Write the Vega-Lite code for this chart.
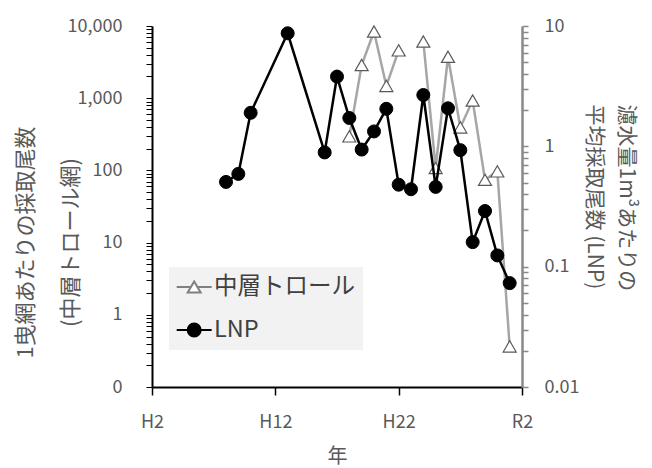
{
  "$schema": "https://vega.github.io/schema/vega-lite/v6.json",
  "width": 370,
  "height": 361,
  "autosize": {"type": "none"},
  "padding": {"left": 152, "top": 26, "right": 130, "bottom": 81},
  "background": "white",
  "config": {
    "view": {"stroke": null},
    "font": "Noto Sans CJK JP",
    "axis": {
      "grid": false,
      "labelFont": "Noto Sans CJK JP",
      "titleFont": "Noto Sans CJK JP",
      "labelColor": "#595959",
      "titleColor": "#595959",
      "titleFontWeight": "normal",
      "labelFontSize": 18,
      "labelOverlap": false,
      "labelFlush": false
    }
  },
  "data": {
    "values": [
      {"year": 1996, "trawl": null, "lnp": 0.506},
      {"year": 1997, "trawl": null, "lnp": 0.59},
      {"year": 1998, "trawl": null, "lnp": 1.9},
      {"year": 2001, "trawl": null, "lnp": 8.7},
      {"year": 2004, "trawl": null, "lnp": 0.89},
      {"year": 2005, "trawl": null, "lnp": 3.8},
      {"year": 2006, "trawl": 296, "lnp": 1.72},
      {"year": 2007, "trawl": 2880, "lnp": 0.94},
      {"year": 2008, "trawl": 8400, "lnp": 1.33},
      {"year": 2009, "trawl": 1480, "lnp": 2.05},
      {"year": 2010, "trawl": 4600, "lnp": 0.48},
      {"year": 2011, "trawl": null, "lnp": 0.44},
      {"year": 2012, "trawl": 6100, "lnp": 2.67},
      {"year": 2013, "trawl": 108, "lnp": 0.46},
      {"year": 2014, "trawl": 3750, "lnp": 2.07},
      {"year": 2015, "trawl": 394, "lnp": 0.93},
      {"year": 2016, "trawl": 930, "lnp": 0.16},
      {"year": 2017, "trawl": 74, "lnp": 0.29},
      {"year": 2018, "trawl": 97, "lnp": 0.124},
      {"year": 2019, "trawl": 0.365, "lnp": 0.073}
    ]
  },
  "encoding": {
    "x": {
      "field": "year",
      "type": "quantitative",
      "scale": {"domain": [1990, 2020], "nice": false, "zero": false},
      "axis": {
        "title": "年",
        "titleFontSize": 20,
        "titleY": 69,
        "titleBaseline": "middle",
        "values": [1990, 2000, 2010, 2020],
        "labelExpr": "datum.value == 2020 ? 'R2' : 'H' + (datum.value - 1988)",
        "domainColor": "black",
        "domainWidth": 2,
        "tickColor": "black",
        "tickWidth": 1.5,
        "tickSize": 8,
        "labelPadding": 18,
        "labelBaseline": "top"
      }
    }
  },
  "layer": [
    {
      "encoding": {
        "y": {
          "field": "trawl",
          "type": "quantitative",
          "scale": {"type": "log", "domain": [0.1, 10000], "nice": false},
          "axis": {
            "orient": "left",
            "title": ["1曳網あたりの採取尾数", "(中層トロール網)"],
            "titleAngle": -90,
            "titleFontSize": 22,
            "titleLineHeight": 45,
            "titleAlign": "center",
            "titleBaseline": "middle",
            "titleX": -127,
            "titleY": 216,
            "values": [0.1, 0.2, 0.3, 0.4, 0.5, 0.6, 0.7, 0.8, 0.9, 1, 2, 3, 4, 5, 6, 7, 8, 9, 10, 20, 30, 40, 50, 60, 70, 80, 90, 100, 200, 300, 400, 500, 600, 700, 800, 900, 1000, 2000, 3000, 4000, 5000, 6000, 7000, 8000, 9000, 10000],
            "labelExpr": "datum.value == 0.1 ? '0' : (indexof([1, 10, 100, 1000, 10000], datum.value) >= 0 ? format(datum.value, ',') : '')",
            "domainColor": "black",
            "domainWidth": 2,
            "tickColor": "black",
            "tickWidth": 1,
            "tickSize": 6,
            "labelPadding": 24
          }
        }
      },
      "layer": [
        {"mark": {"type": "line", "color": "#a6a6a6", "strokeWidth": 2.5, "invalid": "break-paths-filter-domains"}},
        {
          "transform": [{"filter": "datum.trawl != null"}],
          "mark": {"type": "point", "shape": "triangle-up", "filled": true, "fill": "white", "stroke": "#595959", "size": 169, "strokeWidth": 1.2, "opacity": 1}
        },
        {
          "transform": [{"filter": "false"}],
          "mark": {"type": "point", "filled": true, "strokeWidth": 2, "opacity": 1},
          "encoding": {
            "fill": {
              "datum": "中層トロール",
              "type": "nominal",
              "scale": {"domain": ["中層トロール", "LNP"], "range": ["white", "black"]},
              "legend": {
                "title": null,
                "orient": "none",
                "legendX": 17,
                "legendY": 241,
                "fillColor": "#f2f2f2",
                "padding": 8,
                "symbolSize": 484,
                "symbolStrokeWidth": 2,
                "labelFont": "Noto Sans CJK JP",
                "labelFontSize": 23.5,
                "labelColor": "#404040",
                "labelOffset": 13,
                "rowPadding": 19
              }
            },
            "stroke": {
              "datum": "中層トロール",
              "type": "nominal",
              "scale": {"domain": ["中層トロール", "LNP"], "range": ["#808080", "black"]}
            },
            "shape": {
              "datum": "中層トロール",
              "type": "nominal",
              "scale": {"domain": ["中層トロール", "LNP"], "range": ["M-1.12,0L0.17,0M0.77,0L2.06,0M0.47,-0.51L1.06,0.51L-0.12,0.51Z", "M-1.12,0L2.06,0M1.06,0A0.59,0.59,0,1,1,-0.12,0A0.59,0.59,0,1,1,1.06,0Z"]}
            }
          }
        }
      ]
    },
    {
      "encoding": {
        "y": {
          "field": "lnp",
          "type": "quantitative",
          "scale": {"type": "log", "domain": [0.01, 10], "nice": false},
          "axis": {
            "orient": "right",
            "title": ["濾水量1m³あたりの", "平均採取尾数 (LNP)"],
            "titleAngle": 90,
            "titleFontSize": 21,
            "titleLineHeight": 32,
            "titleAlign": "left",
            "titleBaseline": "middle",
            "titleX": 103,
            "titleY": 78,
            "values": [0.01, 0.02, 0.03, 0.04, 0.05, 0.06, 0.07, 0.08, 0.09, 0.1, 0.2, 0.3, 0.4, 0.5, 0.6, 0.7, 0.8, 0.9, 1, 2, 3, 4, 5, 6, 7, 8, 9, 10],
            "labelExpr": "indexof([0.01, 0.1, 1, 10], datum.value) >= 0 ? format(datum.value, '') : ''",
            "domainColor": "#898989",
            "domainWidth": 2.5,
            "tickColor": "#898989",
            "tickWidth": 1.5,
            "tickSize": 6,
            "labelPadding": 16
          }
        }
      },
      "layer": [
        {"mark": {"type": "line", "color": "black", "strokeWidth": 2.5}},
        {
          "mark": {"type": "point", "shape": "circle", "filled": true, "fill": "black", "stroke": "black", "size": 169, "strokeWidth": 1, "opacity": 1}
        },
        {
          "transform": [{"filter": "false"}],
          "mark": {"type": "point", "filled": true, "strokeWidth": 2, "opacity": 1},
          "encoding": {
            "fill": {"datum": "LNP", "type": "nominal"},
            "stroke": {"datum": "LNP", "type": "nominal"},
            "shape": {"datum": "LNP", "type": "nominal"}
          }
        }
      ]
    }
  ],
  "resolve": {"scale": {"y": "independent"}}
}
